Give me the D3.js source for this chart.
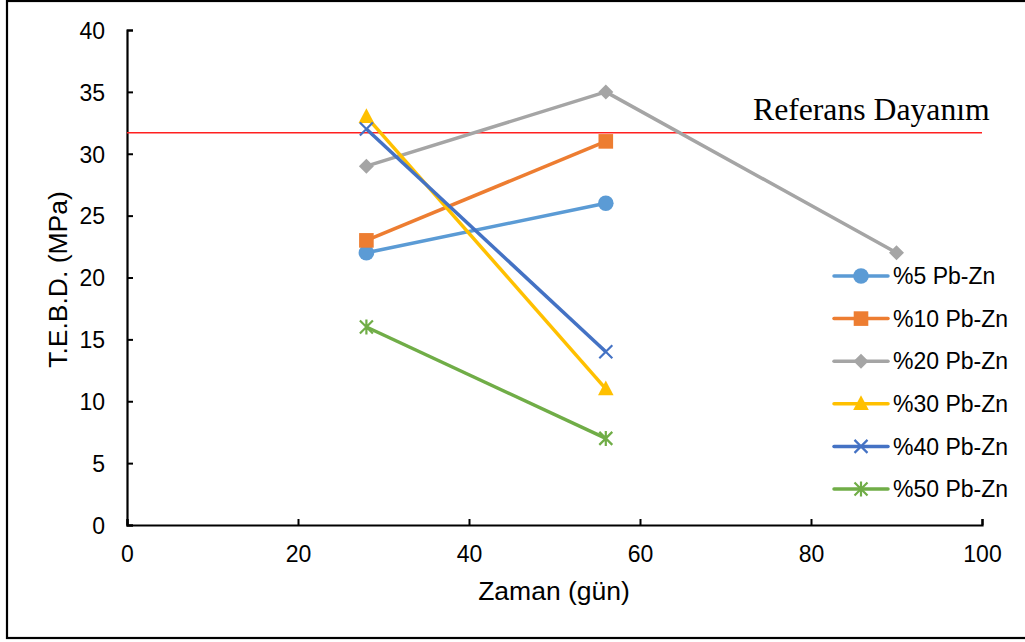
<!DOCTYPE html>
<html>
<head>
<meta charset="utf-8">
<script src="https://cdn.jsdelivr.net/npm/d3@7"></script>
<style>
  html, body { margin: 0; padding: 0; background: #fff; }
  svg { display: block; }
</style>
</head>
<body>
<svg id="chart" width="1025" height="642"></svg>
<script>
// Test days on the x axis
const days = [28, 56, 90];

// Strength values (MPa) per mix
const pbzn5  = [22, 26];
const pbzn10 = [23, 31];
const pbzn20 = [29, 35, 22];
const pbzn30 = [33, 11];
const pbzn40 = [32, 14];
const pbzn50 = [16, 7];

const seriesNames = ["%5 Pb-Zn", "%10 Pb-Zn", "%20 Pb-Zn", "%30 Pb-Zn", "%40 Pb-Zn", "%50 Pb-Zn"];
const seriesColors = ["#5B9BD5", "#ED7D31", "#A5A5A5", "#FFC000", "#4472C4", "#70AD47"];
const seriesMarkers = ["circle", "square", "diamond", "triangle", "cross", "star"];
const seriesValues = [pbzn5, pbzn10, pbzn20, pbzn30, pbzn40, pbzn50];

// Reference strength line
const referenceValue = 31.7;
const referenceLabel = "Referans Dayanım";

const xTicks = [0, 20, 40, 60, 80, 100];
const yTicks = [0, 5, 10, 15, 20, 25, 30, 35, 40];
const xTitle = "Zaman (gün)";
const yTitle = "T.E.B.D. (MPa)";

const svg = d3.select("#chart");
const fontFamily = "Arial, 'Liberation Sans', sans-serif";

// Outer chart frame
svg.append("rect")
  .attr("x", 7).attr("y", 1)
  .attr("width", 1030).attr("height", 637)
  .attr("fill", "none").attr("stroke", "#000").attr("stroke-width", 2.2);

const plot = { left: 127, right: 982, top: 30, bottom: 525 };

const x = d3.scaleLinear().domain([0, 100]).range([plot.left, plot.right]);
const y = d3.scaleLinear().domain([0, 40]).range([plot.bottom, plot.top]);

// Axes
const xAxis = svg.append("g")
  .attr("transform", `translate(0,${plot.bottom})`)
  .call(d3.axisBottom(x).tickValues(xTicks).tickSize(-6).tickPadding(0).tickFormat(d3.format("d")));
const yAxis = svg.append("g")
  .attr("transform", `translate(${plot.left},0)`)
  .call(d3.axisLeft(y).tickValues(yTicks).tickSize(-6).tickPadding(22).tickFormat(d3.format("d")));

[xAxis, yAxis].forEach(g => {
  g.select(".domain").attr("stroke", "#000").attr("stroke-width", 2.2);
  g.selectAll(".tick line").attr("stroke", "#000").attr("stroke-width", 2);
  g.selectAll(".tick text")
    .attr("fill", "#000")
    .style("font-family", fontFamily)
    .style("font-size", "23px");
});
// x tick labels sit with their baseline at a fixed distance below the axis
xAxis.selectAll(".tick text").attr("y", 37).attr("dy", null);
yAxis.selectAll(".tick text").attr("dy", "0.36em");

// Axis titles
svg.append("text")
  .attr("x", 554)
  .attr("y", 600)
  .attr("text-anchor", "middle")
  .style("font-family", fontFamily)
  .style("font-size", "26.5px")
  .text(xTitle);

svg.append("text")
  .attr("transform", `translate(67,${(plot.top + plot.bottom) / 2 + 2}) rotate(-90)`)
  .attr("text-anchor", "middle")
  .style("font-family", fontFamily)
  .style("font-size", "26.5px")
  .text(yTitle);

// Reference line and label
svg.append("line")
  .attr("x1", x(0)).attr("x2", x(100))
  .attr("y1", y(referenceValue)).attr("y2", y(referenceValue))
  .attr("stroke", "#FF2020").attr("stroke-width", 1.5);

svg.append("text")
  .attr("x", 753)
  .attr("y", 120)
  .attr("text-anchor", "start")
  .style("font-family", "'Liberation Serif', 'Times New Roman', serif")
  .style("font-size", "31.7px")
  .text(referenceLabel);

// Marker drawing
function drawMarker(g, type, cx, cy, color) {
  switch (type) {
    case "circle":
      g.append("circle").attr("cx", cx).attr("cy", cy).attr("r", 7.8).attr("fill", color);
      break;
    case "square":
      g.append("rect").attr("x", cx - 7.3).attr("y", cy - 7.3).attr("width", 14.6).attr("height", 14.6).attr("fill", color);
      break;
    case "diamond":
      g.append("path").attr("d", `M${cx},${cy - 7.5}L${cx + 7.5},${cy}L${cx},${cy + 7.5}L${cx - 7.5},${cy}Z`).attr("fill", color);
      break;
    case "triangle":
      g.append("path").attr("d", `M${cx},${cy - 8.5}L${cx + 7.8},${cy + 6.3}L${cx - 7.8},${cy + 6.3}Z`).attr("fill", color);
      break;
    case "cross":
      g.append("path").attr("d", `M${cx - 6.5},${cy - 6.5}L${cx + 6.5},${cy + 6.5}M${cx - 6.5},${cy + 6.5}L${cx + 6.5},${cy - 6.5}`)
        .attr("stroke", color).attr("stroke-width", 2.2).attr("fill", "none");
      break;
    case "star":
      g.append("path").attr("d", `M${cx - 6.5},${cy - 6.5}L${cx + 6.5},${cy + 6.5}M${cx - 6.5},${cy + 6.5}L${cx + 6.5},${cy - 6.5}M${cx},${cy - 7.5}L${cx},${cy + 7.5}`)
        .attr("stroke", color).attr("stroke-width", 2.2).attr("fill", "none");
      break;
  }
}

const line = d3.line().x(d => x(d[0])).y(d => y(d[1]));

seriesValues.forEach((vals, i) => {
  const pts = vals.map((v, j) => [days[j], v]);
  const g = svg.append("g");
  g.append("path")
    .attr("d", line(pts))
    .attr("fill", "none")
    .attr("stroke", seriesColors[i])
    .attr("stroke-width", 3.5)
    .attr("stroke-linejoin", "round");
  pts.forEach(p => drawMarker(g, seriesMarkers[i], x(p[0]), y(p[1]), seriesColors[i]));
});

// Legend
const legendY0 = 276, legendStep = 42.6;
seriesNames.forEach((name, i) => {
  const ly = legendY0 + i * legendStep;
  const g = svg.append("g");
  g.append("line")
    .attr("x1", 834).attr("x2", 888)
    .attr("y1", ly).attr("y2", ly)
    .attr("stroke", seriesColors[i]).attr("stroke-width", 3.5)
    .attr("stroke-linecap", "round");
  drawMarker(g, seriesMarkers[i], 861, ly, seriesColors[i]);
  g.append("text")
    .attr("x", 893).attr("y", ly)
    .attr("dy", "0.36em")
    .style("font-family", fontFamily)
    .style("font-size", "23px")
    .text(name);
});
</script>
</body>
</html>
